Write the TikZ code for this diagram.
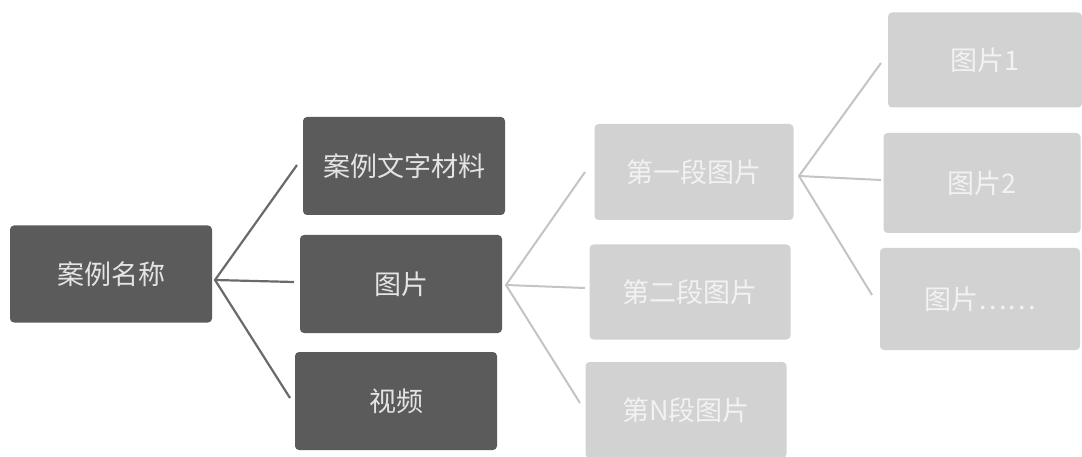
\documentclass[tikz,border=0pt]{standalone}
\usepackage{fontspec}
\newfontfamily\cjk{Noto Sans CJK SC}
\definecolor{darkbox}{HTML}{5B5B5B}
\definecolor{lightbox}{HTML}{D2D2D2}
\definecolor{darkline}{HTML}{6A6A6A}
\definecolor{lightline}{HTML}{C4C4C4}
\definecolor{darktext}{HTML}{E4E4E4}
\definecolor{lighttext}{HTML}{F2F2F2}
\begin{document}
\begin{tikzpicture}[x=1pt,y=-1pt,
  box/.style={rounded corners=4pt, inner sep=0pt, font=\cjk\fontsize{27}{30}\selectfont},
  dbox/.style={box, fill=darkbox, text=darktext},
  lbox/.style={box, fill=lightbox, text=lighttext},
  dlink/.style={draw=darkline, line width=2.2pt},
  llink/.style={draw=lightline, line width=2pt}]
\fill[white] (0,0) rectangle (1082,457);
\useasboundingbox (0,0) rectangle (1082,457);
% first level
\node[dbox, minimum width=202pt, minimum height=97pt] (root) at (111,274) {案例名称};
\node[dbox, minimum width=202pt, minimum height=98pt] (a1) at (404,166) {案例文字材料};
\node[dbox, minimum width=202pt, minimum height=98pt] (a2) at (401,284) {图片};
\node[dbox, minimum width=202pt, minimum height=98pt] (a3) at (396,401) {视频};
% second level
\node[lbox, minimum width=199pt, minimum height=96pt] (b1) at (694,172) {第一段图片};
\node[lbox, minimum width=201pt, minimum height=95pt] (b2) at (690,292) {第二段图片};
\node[lbox, minimum width=201pt, minimum height=96pt] (b3) at (686,410) {第N段图片};
% third level
\node[lbox, minimum width=194pt, minimum height=95pt] (c1) at (985,60) {图片1};
\node[lbox, minimum width=197pt, minimum height=100pt] (c2) at (982,183) {图片2};
\node[lbox, minimum width=200pt, minimum height=102pt] (c3) at (980,299) {图片……};
% connector hubs and ends
\coordinate (r) at (215,280);
\coordinate (ra1) at (297,165);
\coordinate (ra2) at (294,282);
\coordinate (ra3) at (290,398);
\coordinate (s) at (506,285);
\coordinate (sb1) at (585,172);
\coordinate (sb2) at (585,288);
\coordinate (sb3) at (580,403);
\coordinate (t) at (799,176);
\coordinate (tc1) at (881,63);
\coordinate (tc2) at (881,180);
\coordinate (tc3) at (872,295);
\draw[dlink] (ra1) -- (r) -- (ra3);
\draw[dlink] (r) -- (ra2);
\draw[llink] (sb1) -- (s) -- (sb3);
\draw[llink] (s) -- (sb2);
\draw[llink] (tc1) -- (t) -- (tc3);
\draw[llink] (t) -- (tc2);
\end{tikzpicture}
\end{document}
